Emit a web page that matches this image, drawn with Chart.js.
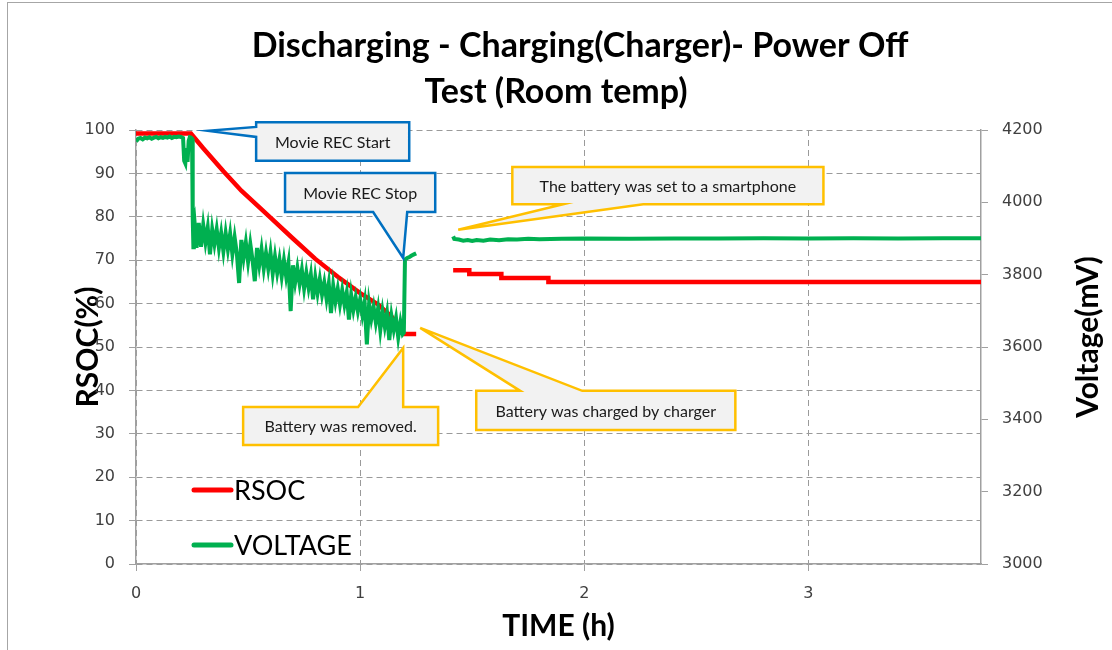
<!DOCTYPE html>
<html>
<head>
<meta charset="utf-8">
<script src="https://cdn.jsdelivr.net/npm/chart.js@4.4.0/dist/chart.umd.min.js"></script>
<style>
  body { margin: 0; background: #fff; }
  canvas { display: block; }
</style>
</head>
<body>
<canvas id="chart-area" width="1112" height="650"></canvas>
<script>
// time (h) and RSOC (%)
var rsocTime   = [0, 0.245, 0.30, 0.39, 0.47, 0.60, 0.70, 0.80, 0.90, 1.00, 1.08, 1.14, 1.19, 1.195, 1.25, 1.33,
                  1.415, 1.487, 1.487, 1.63, 1.63, 1.84, 1.84, 3.77];
var rsocValues = [99.2, 99.2, 95.8, 90.5, 86, 79.8, 75, 70.3, 66.2, 62.4, 59.8, 57, 53.5, 53, 53, null,
                  67.7, 67.7, 66.8, 66.8, 65.9, 65.9, 65, 65];

// time (h) and voltage (mV)
var voltTime = [0, 0.01, 0.02, 0.03, 0.04, 0.05, 0.06, 0.07, 0.08, 0.09, 0.10, 0.11, 0.12, 0.13, 0.14, 0.15,
  0.16, 0.17, 0.18, 0.19, 0.20, 0.21, 0.215, 0.22, 0.225, 0.23, 0.235, 0.24, 0.245, 0.25, 0.253, 0.256, 0.258,
  0.26, 0.27, 0.28, 0.29, 0.30, 0.31, 0.32, 0.33, 0.34, 0.35,
  0.36, 0.37, 0.38, 0.39, 0.40, 0.41, 0.42, 0.43, 0.44, 0.45,
  0.46, 0.47, 0.48, 0.49, 0.50, 0.51, 0.52, 0.53, 0.54, 0.55,
  0.56, 0.57, 0.58, 0.59, 0.60, 0.61, 0.62, 0.63, 0.64, 0.65,
  0.66, 0.67, 0.68, 0.69, 0.70, 0.71, 0.72, 0.73, 0.74, 0.75,
  0.76, 0.77, 0.78, 0.79, 0.80, 0.81, 0.82, 0.83, 0.84, 0.85,
  0.86, 0.87, 0.88, 0.89, 0.90, 0.91, 0.92, 0.93, 0.94, 0.95,
  0.96, 0.97, 0.98, 0.99, 1.00, 1.01, 1.02, 1.03, 1.04, 1.05,
  1.06, 1.07, 1.08, 1.09, 1.10, 1.11, 1.12, 1.13, 1.14, 1.15,
  1.16, 1.17, 1.18, 1.19, 1.195, 1.20, 1.21, 1.22, 1.23, 1.24, 1.25, 1.33,
  1.415, 1.42, 1.44, 1.46, 1.48, 1.50, 1.52, 1.55, 1.58, 1.62, 1.66, 1.70, 1.75, 1.80, 1.90,
  2.00, 2.20, 2.40, 2.60, 2.80, 3.00, 3.20, 3.40, 3.60, 3.77];
var voltValues = [4168, 4176, 4178, 4174, 4179, 4177, 4180, 4176, 4179, 4181, 4177, 4180, 4178, 4181, 4179, 4182,
  4178, 4181, 4180, 4182, 4181, 4178, 4115, 4108, 4150, 4112, 4170, 4180, 4179, 4176, 3960, 3876, 3950,
  3955, 3874, 3943, 3877, 3937, 3890, 3930, 3856, 3925, 3885,
  3925, 3874, 3915, 3865, 3915, 3870, 3913, 3857, 3903, 3858,
  3777, 3896, 3847, 3889, 3836, 3885, 3840, 3782, 3874, 3827,
  3870, 3817, 3860, 3817, 3861, 3803, 3850, 3805, 3842, 3795,
  3840, 3795, 3832, 3699, 3826, 3779, 3818, 3775, 3813, 3762,
  3805, 3764, 3800, 3732, 3792, 3749, 3788, 3745, 3778, 3734,
  3775, 3694, 3769, 3726, 3761, 3718, 3757, 3717, 3750, 3676,
  3744, 3703, 3737, 3699, 3732, 3689, 3724, 3607, 3719, 3678,
  3711, 3668, 3706, 3647, 3698, 3657, 3693, 3619, 3685, 3648,
  3680, 3627, 3669, 3636, 3640, 3842, 3846, 3849, 3853, 3856, 3859, null,
  3906, 3899, 3897, 3894, 3896, 3893, 3896, 3894, 3897, 3895, 3898, 3897, 3899, 3898, 3899,
  3900, 3899, 3900, 3900, 3901, 3900, 3901, 3900, 3901, 3901];

var xTicks = [0, 1, 2, 3];

// callouts: box [x0, yTop, x1, yBottom] in (h, %), pointer base and tip
var callouts = [
  { text: 'Movie REC Start', color: '#0070C0', box: [0.536, 101.8, 1.219, 92.9], side: 'left', base: [100.7, 98.4], tip: [0.321, 99.8] },
  { text: 'Movie REC Stop', color: '#0070C0', box: [0.665, 90.1, 1.335, 81.1], side: 'bottom', base: [1.058, 1.21], tip: [1.192, 70.5] },
  { text: 'The battery was set to a smartphone', color: '#FFC000', box: [1.679, 91.5, 3.067, 82.9], side: 'bottom', base: [1.906, 2.263], tip: [1.4375, 77] },
  { text: 'Battery was removed.', color: '#FFC000', box: [0.478, 36.2, 1.348, 27.4], side: 'top', base: [0.991, 1.192], tip: [1.192, 49.8] },
  { text: 'Battery was charged by charger', color: '#FFC000', box: [1.518, 39.9, 2.674, 30.9], side: 'top', base: [1.714, 1.991], tip: [1.268, 54.4] }
];

var tickFont = { family: "'DejaVu Sans', sans-serif", size: 16 };
var tickColor = '#404040';
var axisColor = '#a0a0a0';
var gridColor = '#9a9a9a';
var axisTitleFont = { family: 'Lato', size: 30, weight: 'bold' };

var decor = {
  id: 'decor',
  beforeDraw: function(chart) {
    var ctx = chart.ctx;
    ctx.save();
    ctx.fillStyle = '#fff';
    ctx.fillRect(0, 0, chart.width, chart.height);
    ctx.strokeStyle = '#a6a6a6';
    ctx.lineWidth = 1;
    ctx.strokeRect(7.5, 2.5, chart.width, chart.height);
    ctx.restore();
  },
  afterDraw: function(chart) {
    var ctx = chart.ctx;
    var xs = chart.scales.x, ys = chart.scales.y, area = chart.chartArea;
    ctx.save();

    // title
    ctx.fillStyle = '#000';
    ctx.textAlign = 'center';
    ctx.textBaseline = 'middle';
    ctx.font = 'bold 34px Lato';
    ctx.fillText('Discharging - Charging(Charger)- Power Off', 580, 46);
    ctx.fillText('Test (Room temp)', 556, 92);

    // right axis title, reads bottom to top
    ctx.save();
    ctx.translate(1088, 337);
    ctx.rotate(-Math.PI / 2);
    ctx.font = 'bold 30px Lato';
    ctx.fillText('Voltage(mV)', 0, 0);
    ctx.restore();

    // legend inside the plot
    var legY = [490, 545];
    chart.data.datasets.forEach(function(ds, i) {
      ctx.strokeStyle = ds.borderColor;
      ctx.lineWidth = 5;
      ctx.lineCap = 'round';
      ctx.beginPath();
      ctx.moveTo(area.left + 58, legY[i]);
      ctx.lineTo(area.left + 95, legY[i]);
      ctx.stroke();
      ctx.fillStyle = '#000';
      ctx.font = '27px Lato';
      ctx.textAlign = 'left';
      ctx.fillText(ds.label, area.left + 98, legY[i] + 1);
    });

    // callouts
    ctx.lineCap = 'butt';
    ctx.lineJoin = 'miter';
    callouts.forEach(function(c) {
      var x0 = xs.getPixelForValue(c.box[0]), y0 = ys.getPixelForValue(c.box[1]);
      var x1 = xs.getPixelForValue(c.box[2]), y1 = ys.getPixelForValue(c.box[3]);
      var tx = xs.getPixelForValue(c.tip[0]), ty = ys.getPixelForValue(c.tip[1]);
      var pts;
      if (c.side === 'left') {
        var b0 = ys.getPixelForValue(c.base[0]), b1 = ys.getPixelForValue(c.base[1]);
        pts = [[x0, y0], [x1, y0], [x1, y1], [x0, y1], [x0, b1], [tx, ty], [x0, b0]];
      } else if (c.side === 'bottom') {
        var a0 = xs.getPixelForValue(c.base[0]), a1 = xs.getPixelForValue(c.base[1]);
        pts = [[x0, y0], [x1, y0], [x1, y1], [a1, y1], [tx, ty], [a0, y1], [x0, y1]];
      } else {
        var t0 = xs.getPixelForValue(c.base[0]), t1 = xs.getPixelForValue(c.base[1]);
        pts = [[x0, y0], [t0, y0], [tx, ty], [t1, y0], [x1, y0], [x1, y1], [x0, y1]];
      }
      ctx.beginPath();
      pts.forEach(function(p, k) { if (k === 0) ctx.moveTo(p[0], p[1]); else ctx.lineTo(p[0], p[1]); });
      ctx.closePath();
      ctx.fillStyle = '#f2f2f2';
      ctx.fill();
      ctx.strokeStyle = c.color;
      ctx.lineWidth = 2.5;
      ctx.stroke();
      ctx.fillStyle = '#1a1a1a';
      ctx.font = '16px Lato';
      ctx.textAlign = 'center';
      ctx.textBaseline = 'middle';
      ctx.fillText(c.text, (x0 + x1) / 2, (y0 + y1) / 2 + 1);
    });
    ctx.restore();
  }
};

var config = {
  type: 'line',
  data: {
    datasets: [{
      label: 'RSOC',
      data: rsocTime.map(function(t, i) { return { x: t, y: rsocValues[i] }; }),
      borderColor: '#FF0000',
      borderWidth: 4.5,
      pointRadius: 0,
      tension: 0,
      yAxisID: 'y',
      order: 1
    }, {
      label: 'VOLTAGE',
      data: voltTime.map(function(t, i) { return { x: t, y: voltValues[i] }; }),
      borderColor: '#00B050',
      borderWidth: 4,
      pointRadius: 0,
      tension: 0,
      yAxisID: 'yV',
      order: 0
    }]
  },
  options: {
    responsive: false,
    animation: false,
    devicePixelRatio: 1,
    layout: { padding: { top: 130, left: 0, right: 0, bottom: 0 } },
    plugins: {
      legend: { display: false },
      title: { display: false },
      tooltip: { enabled: false }
    },
    scales: {
      x: {
        type: 'linear',
        min: 0,
        max: 3.77,
        afterBuildTicks: function(scale) { scale.ticks = xTicks.map(function(v) { return { value: v }; }); },
        afterFit: function(scale) { scale.height = 86; },
        ticks: { font: tickFont, color: tickColor, padding: 13, callback: function(v) { return String(v); } },
        grid: { color: gridColor, lineWidth: 1, tickLength: 7, tickColor: axisColor },
        border: { color: axisColor, width: 1.5, dash: [6, 4] },
        title: { display: true, text: 'TIME (h)', color: '#000', font: axisTitleFont, padding: { top: 0, bottom: 6 } }
      },
      y: {
        position: 'left',
        min: 0,
        max: 100,
        ticks: { stepSize: 10, font: tickFont, color: tickColor, padding: 14, callback: function(v) { return String(v); } },
        afterFit: function(scale) { scale.width = 136; },
        grid: { color: gridColor, lineWidth: 1, tickLength: 7, tickColor: axisColor },
        border: { color: axisColor, width: 1.5, dash: [6, 4] },
        title: { display: true, text: 'RSOC(%)', color: '#000', font: axisTitleFont, padding: { top: 70, bottom: 0 } }
      },
      yV: {
        position: 'right',
        min: 3000,
        max: 4200,
        ticks: { stepSize: 200, font: tickFont, color: tickColor, padding: 14, callback: function(v) { return String(v); } },
        afterFit: function(scale) { scale.width = 131; },
        grid: { drawOnChartArea: false, tickLength: 7, tickColor: axisColor },
        border: { color: axisColor, width: 1.5 }
      }
    }
  },
  plugins: [decor]
};

window.onload = function() {
  var ctx = document.getElementById('chart-area').getContext('2d');
  window.myLine = new Chart(ctx, config);
};
</script>
</body>
</html>
